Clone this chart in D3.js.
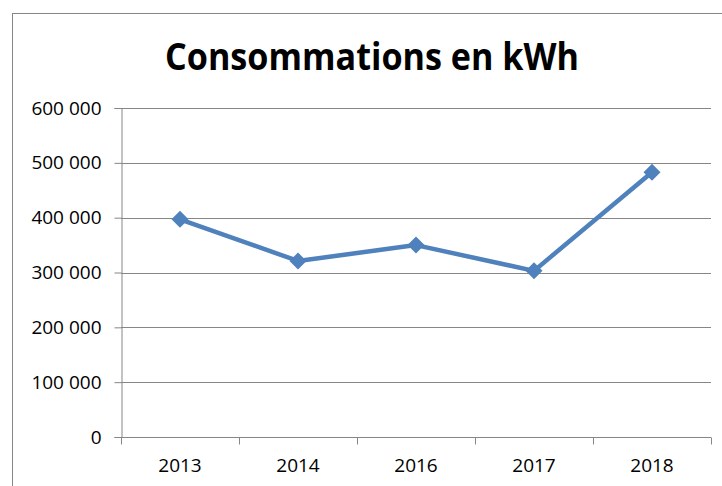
<html>
<head>
<script src="https://d3js.org/d3.v7.min.js"></script>
<style>
  body { margin: 0; background: #fff; }
  text { font-family: "Open Sans", "Liberation Sans", sans-serif; }
</style>
</head>
<body>
<script>
// data
var years = ["2013", "2014", "2016", "2017", "2018"];
var conso = [397000, 321000, 350000, 303000, 483000];
var yTicks = [0, 100000, 200000, 300000, 400000, 500000, 600000];
var title = "Consommations en kWh";

var W = 722, H = 486;
var plotL = 121, plotR = 711, plotT = 108, plotB = 437;

var svg = d3.select("body").append("svg").attr("width", W).attr("height", H);

// chart frame
svg.append("rect").attr("x", 12.5).attr("y", 13.5).attr("width", 720).attr("height", 500)
  .attr("fill", "none").attr("stroke", "#868686").attr("stroke-width", 1);

var x = d3.scaleBand().domain(years).range([plotL, plotR]);
var y = d3.scaleLinear().domain([0, 600000]).range([plotB, plotT]);

var fmt = function(v){ return d3.format(",")(v).replace(/,/g, " "); };

// gridlines
svg.append("g").selectAll("line").data(yTicks.filter(function(d){ return d > 0; })).enter()
  .append("line")
  .attr("x1", plotL).attr("x2", plotR)
  .attr("y1", function(d){ return Math.round(y(d)) + 0.5; })
  .attr("y2", function(d){ return Math.round(y(d)) + 0.5; })
  .attr("stroke", "#868686").attr("stroke-width", 1);

// y axis
var yAxis = d3.axisLeft(y).tickValues(yTicks).tickSize(7).tickPadding(13).tickFormat(fmt);
var yg = svg.append("g").attr("transform", "translate(" + (plotL + 0.5) + ",0)").call(yAxis);
yg.select(".domain").attr("stroke", "#868686");
yg.selectAll(".tick line").attr("stroke", "#868686");
yg.selectAll(".tick text").attr("font-size", 19).attr("fill", "#000")
  .style("font-family", "'Open Sans', sans-serif");

// x axis
var xAxis = d3.axisBottom(x).tickSize(0).tickPadding(21);
var xg = svg.append("g").attr("transform", "translate(0," + (plotB + 0.5) + ")").call(xAxis);
xg.select(".domain").attr("stroke", "#868686").attr("d", "M" + plotL + ",0H" + plotR);
xg.selectAll(".tick text").attr("font-size", 19).attr("fill", "#000");
// category boundary ticks
var bounds = years.map(function(d){ return x(d); }).concat([plotR]);
xg.selectAll(".bnd").data(bounds).enter().append("line").attr("class", "bnd")
  .attr("x1", function(d){ return Math.round(d) + 0.5; })
  .attr("x2", function(d){ return Math.round(d) + 0.5; })
  .attr("y1", 0).attr("y2", 7).attr("stroke", "#868686");

// line
var line = d3.line()
  .x(function(d, i){ return x(years[i]) + x.bandwidth() / 2; })
  .y(function(d){ return y(d); });
svg.append("path").datum(conso).attr("d", line)
  .attr("fill", "none").attr("stroke", "#4F81BD").attr("stroke-width", 4.5)
  .attr("stroke-linejoin", "round");

// diamond markers
svg.append("g").selectAll("path").data(conso).enter().append("path")
  .attr("transform", function(d, i){
    return "translate(" + (x(years[i]) + x.bandwidth() / 2) + "," + y(d) + ") rotate(45)";
  })
  .attr("d", "M-6,-6H6V6H-6Z")
  .attr("fill", "#4F81BD");

// title
svg.append("text").attr("x", 372).attr("y", 70).attr("text-anchor", "middle")
  .attr("font-size", 38).attr("font-weight", "bold").attr("fill", "#000")
  .attr("textLength", 414).attr("lengthAdjust", "spacingAndGlyphs")
  .text(title);
</script>
</body>
</html>
